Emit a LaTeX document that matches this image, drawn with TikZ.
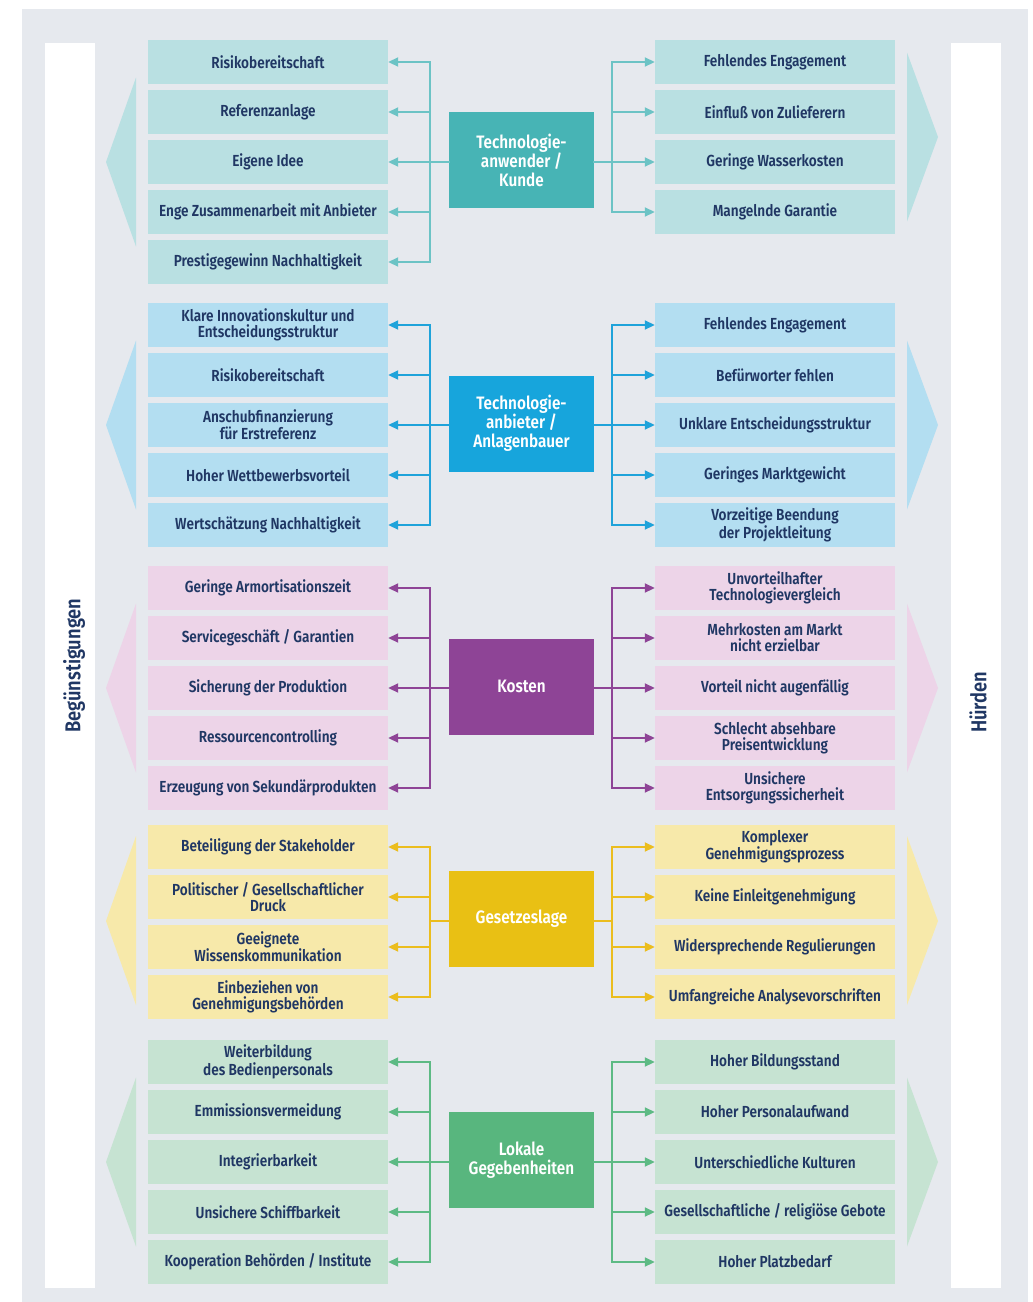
\documentclass[tikz,border=0pt]{standalone}
\usepackage{fontspec}
\setmainfont{Fira Sans SemiBold}[FakeStretch=0.85]
\usetikzlibrary{arrows.meta}
\definecolor{bg}{HTML}{E6E9EE}
\definecolor{txt}{HTML}{203764}
\definecolor{aBox}{HTML}{B9E0E2}\definecolor{aHub}{HTML}{47B4B5}\definecolor{aLine}{HTML}{6CC3C5}
\definecolor{bBox}{HTML}{B3DEF1}\definecolor{bHub}{HTML}{17A5DC}\definecolor{bLine}{HTML}{1FA3DA}
\definecolor{cBox}{HTML}{EDD4E8}\definecolor{cHub}{HTML}{8E4496}\definecolor{cLine}{HTML}{8E4496}
\definecolor{dBox}{HTML}{F7E9AA}\definecolor{dHub}{HTML}{E9C014}\definecolor{dLine}{HTML}{EBBD1E}
\definecolor{eBox}{HTML}{C6E3D2}\definecolor{eHub}{HTML}{58B67E}\definecolor{eLine}{HTML}{5DBA84}
\newcommand{\itemfont}{\fontsize{16}{16}\selectfont}
\newcommand{\hubfont}{\fontsize{18}{19}\selectfont}
\newcommand{\sidefont}{\fontsize{21.5}{22}\selectfont}
\tikzset{
  item/.style={minimum width=240pt, minimum height=44pt, inner sep=0pt, align=center, font=\itemfont, text=txt},
  hub/.style={minimum width=145pt, minimum height=96pt, inner sep=0pt, align=center, font=\hubfont, text=white},
  link/.style={line width=1.8pt, line cap=rect},
  arr/.style={line width=1.8pt, -{Triangle[length=10pt,width=9pt]}},
  side/.style={rotate=90, anchor=west, font=\sidefont, text=txt, inner sep=0pt},
}
\begin{document}
\begin{tikzpicture}[x=1pt,y=-1pt]
\useasboundingbox (0,0) rectangle (1033,1302);
\fill[white] (0,0) rectangle (1033,1302);
\fill[bg] (22,9) rectangle (1028,1302);
\fill[white] (45,43) rectangle (95,1288);
\fill[white] (951,43) rectangle (1001,1288);
\node[side] (lblL) at (74,733) {Begünstigungen};
\node[side] (lblR) at (978,733) {Hürden};

% ---------- Group 1 ----------
\fill[aBox] (136,77.5) -- (106,162) -- (136,246.5) -- cycle;
\fill[aBox] (907,52.5) -- (938,137) -- (907,221.5) -- cycle;
\node[item, fill=aBox] (aL1) at (268,62) {Risikobereitschaft};
\node[item, fill=aBox] (aL2) at (268,112) {Referenzanlage};
\node[item, fill=aBox] (aL3) at (268,162) {Eigene Idee};
\node[item, fill=aBox] (aL4) at (268,212) {Enge Zusammenarbeit mit Anbieter};
\node[item, fill=aBox] (aL5) at (268,262) {Prestigegewinn Nachhaltigkeit};
\node[item, fill=aBox] (aR1) at (775,62) {Fehlendes Engagement};
\node[item, fill=aBox] (aR2) at (775,112) {Einfluß von Zulieferern};
\node[item, fill=aBox] (aR3) at (775,162) {Geringe Wasserkosten};
\node[item, fill=aBox] (aR4) at (775,212) {Mangelnde Garantie};
\node[hub, fill=aHub] (aH) at (521.5,160) {Technologie-\\anwender /\\Kunde};
\coordinate (aTL) at (430,162);
\coordinate (aTR) at (612,162);
\begin{scope}[draw=aLine, color=aLine]
\draw[link] (aL1.east -| aTL) -- (aL5.east -| aTL);
\draw[link] (aR1.west -| aTR) -- (aR4.west -| aTR);
\draw[link] (aH.west |- aTL) -- (aTL);
\draw[link] (aH.east |- aTR) -- (aTR);
\foreach \i in {1,...,5} {\draw[arr] (aL\i.east -| aTL) -- (aL\i.east);}
\foreach \i in {1,...,4} {\draw[arr] (aR\i.west -| aTR) -- (aR\i.west);}
\end{scope}

% ---------- Group 2 ----------
\fill[bBox] (136,340.5) -- (106,425) -- (136,509.5) -- cycle;
\fill[bBox] (907,340.5) -- (938,425) -- (907,509.5) -- cycle;
\node[item, fill=bBox] (bL1) at (268,325) {Klare Innovationskultur und\\Entscheidungsstruktur};
\node[item, fill=bBox] (bL2) at (268,375) {Risikobereitschaft};
\node[item, fill=bBox] (bL3) at (268,425) {Anschubfinanzierung\\für Erstreferenz};
\node[item, fill=bBox] (bL4) at (268,475) {Hoher Wettbewerbsvorteil};
\node[item, fill=bBox] (bL5) at (268,525) {Wertschätzung Nachhaltigkeit};
\node[item, fill=bBox] (bR1) at (775,325) {Fehlendes Engagement};
\node[item, fill=bBox] (bR2) at (775,375) {Befürworter fehlen};
\node[item, fill=bBox] (bR3) at (775,425) {Unklare Entscheidungsstruktur};
\node[item, fill=bBox] (bR4) at (775,475) {Geringes Marktgewicht};
\node[item, fill=bBox] (bR5) at (775,525) {Vorzeitige Beendung\\der Projektleitung};
\node[hub, fill=bHub] (bH) at (521.5,423.5) {Technologie-\\anbieter /\\Anlagenbauer};
\coordinate (bTL) at (430,425);
\coordinate (bTR) at (612,425);
\begin{scope}[draw=bLine, color=bLine]
\draw[link] (bL1.east -| bTL) -- (bL5.east -| bTL);
\draw[link] (bR1.west -| bTR) -- (bR5.west -| bTR);
\draw[link] (bH.west |- bTL) -- (bTL);
\draw[link] (bH.east |- bTR) -- (bTR);
\foreach \i in {1,...,5} {\draw[arr] (bL\i.east -| bTL) -- (bL\i.east);}
\foreach \i in {1,...,5} {\draw[arr] (bR\i.west -| bTR) -- (bR\i.west);}
\end{scope}

% ---------- Group 3 ----------
\fill[cBox] (136,603.5) -- (106,688) -- (136,772.5) -- cycle;
\fill[cBox] (907,603.5) -- (938,688) -- (907,772.5) -- cycle;
\node[item, fill=cBox] (cL1) at (268,588) {Geringe Armortisationszeit};
\node[item, fill=cBox] (cL2) at (268,638) {Servicegeschäft / Garantien};
\node[item, fill=cBox] (cL3) at (268,688) {Sicherung der Produktion};
\node[item, fill=cBox] (cL4) at (268,738) {Ressourcencontrolling};
\node[item, fill=cBox] (cL5) at (268,788) {Erzeugung von Sekundärprodukten};
\node[item, fill=cBox] (cR1) at (775,588) {Unvorteilhafter\\Technologievergleich};
\node[item, fill=cBox] (cR2) at (775,638) {Mehrkosten am Markt\\nicht erzielbar};
\node[item, fill=cBox] (cR3) at (775,688) {Vorteil nicht augenfällig};
\node[item, fill=cBox] (cR4) at (775,738) {Schlecht absehbare\\Preisentwicklung};
\node[item, fill=cBox] (cR5) at (775,788) {Unsichere\\Entsorgungssicherheit};
\node[hub, fill=cHub] (cH) at (521.5,686.5) {Kosten};
\coordinate (cTL) at (430,688);
\coordinate (cTR) at (612,688);
\begin{scope}[draw=cLine, color=cLine]
\draw[link] (cL1.east -| cTL) -- (cL5.east -| cTL);
\draw[link] (cR1.west -| cTR) -- (cR5.west -| cTR);
\draw[link] (cH.west |- cTL) -- (cTL);
\draw[link] (cH.east |- cTR) -- (cTR);
\foreach \i in {1,...,5} {\draw[arr] (cL\i.east -| cTL) -- (cL\i.east);}
\foreach \i in {1,...,5} {\draw[arr] (cR\i.west -| cTR) -- (cR\i.west);}
\end{scope}

% ---------- Group 4 ----------
\fill[dBox] (136,836) -- (106,921) -- (136,1005) -- cycle;
\fill[dBox] (907,836) -- (938,921) -- (907,1005) -- cycle;
\node[item, fill=dBox] (dL1) at (268,847) {Beteiligung der Stakeholder};
\node[item, fill=dBox] (dL2) at (268,897) {Politischer / Gesellschaftlicher\\Druck};
\node[item, fill=dBox] (dL3) at (268,947) {Geeignete\\Wissenskommunikation};
\node[item, fill=dBox] (dL4) at (268,997) {Einbeziehen von\\Genehmigungsbehörden};
\node[item, fill=dBox] (dR1) at (775,847) {Komplexer\\Genehmigungsprozess};
\node[item, fill=dBox] (dR2) at (775,897) {Keine Einleitgenehmigung};
\node[item, fill=dBox] (dR3) at (775,947) {Widersprechende Regulierungen};
\node[item, fill=dBox] (dR4) at (775,997) {Umfangreiche Analysevorschriften};
\node[hub, fill=dHub] (dH) at (521.5,919) {Gesetzeslage};
\coordinate (dTL) at (430,921);
\coordinate (dTR) at (612,921);
\begin{scope}[draw=dLine, color=dLine]
\draw[link] (dL1.east -| dTL) -- (dL4.east -| dTL);
\draw[link] (dR1.west -| dTR) -- (dR4.west -| dTR);
\draw[link] (dH.west |- dTL) -- (dTL);
\draw[link] (dH.east |- dTR) -- (dTR);
\foreach \i in {1,...,4} {\draw[arr] (dL\i.east -| dTL) -- (dL\i.east);}
\foreach \i in {1,...,4} {\draw[arr] (dR\i.west -| dTR) -- (dR\i.west);}
\end{scope}

% ---------- Group 5 ----------
\fill[eBox] (136,1077.5) -- (106,1162) -- (136,1246.5) -- cycle;
\fill[eBox] (907,1077.5) -- (938,1162) -- (907,1246.5) -- cycle;
\node[item, fill=eBox] (eL1) at (268,1062) {Weiterbildung\\des Bedienpersonals};
\node[item, fill=eBox] (eL2) at (268,1112) {Emmissionsvermeidung};
\node[item, fill=eBox] (eL3) at (268,1162) {Integrierbarkeit};
\node[item, fill=eBox] (eL4) at (268,1212) {Unsichere Schiffbarkeit};
\node[item, fill=eBox] (eL5) at (268,1262) {Kooperation Behörden / Institute};
\node[item, fill=eBox] (eR1) at (775,1062) {Hoher Bildungsstand};
\node[item, fill=eBox] (eR2) at (775,1112) {Hoher Personalaufwand};
\node[item, fill=eBox] (eR3) at (775,1162) {Unterschiedliche Kulturen};
\node[item, fill=eBox] (eR4) at (775,1212) {Gesellschaftliche / religiöse Gebote};
\node[item, fill=eBox] (eR5) at (775,1262) {Hoher Platzbedarf};
\node[hub, fill=eHub] (eH) at (521.5,1160) {Lokale\\Gegebenheiten};
\coordinate (eTL) at (430,1162);
\coordinate (eTR) at (612,1162);
\begin{scope}[draw=eLine, color=eLine]
\draw[link] (eL1.east -| eTL) -- (eL5.east -| eTL);
\draw[link] (eR1.west -| eTR) -- (eR5.west -| eTR);
\draw[link] (eH.west |- eTL) -- (eTL);
\draw[link] (eH.east |- eTR) -- (eTR);
\foreach \i in {1,...,5} {\draw[arr] (eL\i.east -| eTL) -- (eL\i.east);}
\foreach \i in {1,...,5} {\draw[arr] (eR\i.west -| eTR) -- (eR\i.west);}
\end{scope}
\end{tikzpicture}
\end{document}
